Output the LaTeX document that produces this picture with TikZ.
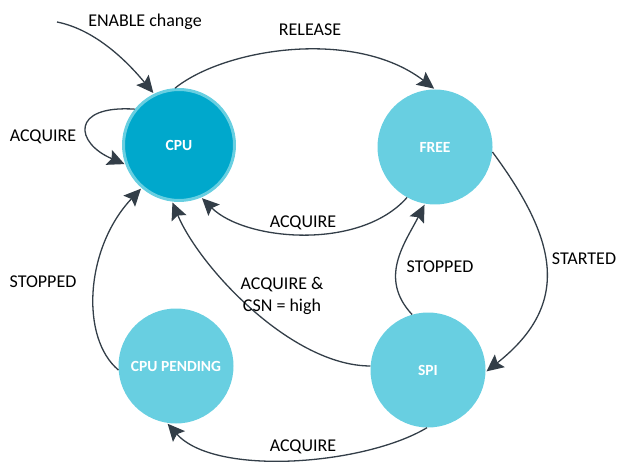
\documentclass[tikz,border=0pt]{standalone}
\usepackage{fontspec}
\setmainfont{Carlito}
\usetikzlibrary{arrows.meta}
\definecolor{lightst}{HTML}{68CFE1}
\definecolor{darkst}{HTML}{00A8CC}
\definecolor{edgec}{HTML}{333E48}
\tikzset{
  state/.style={circle, fill=lightst, minimum size=115pt, inner sep=0pt,
    font=\fontsize{15.5}{18}\selectfont\bfseries, text=white},
  activestate/.style={state, fill=darkst, draw=lightst, line width=3pt, minimum size=111pt},
  trans/.style={draw=edgec, line width=1.3pt, shorten >=1pt,
    -{Stealth[length=17pt,width=16pt,inset=3pt]}},
  lbl/.style={font=\fontsize{18}{22}\selectfont, text=black, inner sep=0pt, align=center}
}
\begin{document}
\begin{tikzpicture}[x=1pt,y=1pt]
\useasboundingbox (0,0) rectangle (617,463);
\node[activestate] (cpu) at (179,318) {CPU};
\node[state] (free) at (435,316) {FREE};
\node[state] (cpup) at (176,97) {CPU PENDING};
\node[state] (spi) at (428,93) {SPI};
\coordinate (ent) at (57,441);
% enable change
\draw[trans] (ent) .. controls +(40,-8) and +(-25,30) .. (cpu.116);
% release
\draw[trans] (cpu.94) .. controls (225,415) and (355,435) .. (free.90);
% self loop
\draw[trans] (cpu.141) .. controls (70,358) and (75,320) .. (cpu.200);
% free -> cpu acquire
\draw[trans] (free.241.6) .. controls (360,212) and (245,222) .. (cpu.293.5);
% started
\draw[trans] (free.-5) .. controls (556,225) and (573,160) .. (spi.-2);
% stopped spi -> free
\draw[trans] (spi.106) .. controls (378,185) and (405,220) .. (free.260);
% spi -> cpu
\draw[trans] (spi.176) .. controls (292,97) and (200,195) .. (cpu.263);
% cpu pending -> cpu
\draw[trans] (cpup.184) .. controls (80,125) and (85,215) .. (cpu.229);
% spi -> cpu pending
\draw[trans] (spi.269) .. controls (365,-2) and (215,-14) .. (cpup.261);
% labels
\node[lbl] (l1) at (145,441) {ENABLE change};
\node[lbl] (l2) at (310,433) {RELEASE};
\node[lbl] (l3) at (43,326) {ACQUIRE};
\node[lbl] (l4) at (43,181) {STOPPED};
\node[lbl] (l5) at (303,240) {ACQUIRE};
\node[lbl] (l6) at (440,196) {STOPPED};
\node[lbl] (l7) at (584,204) {STARTED};
\node[lbl] (l8) at (282,167) {ACQUIRE \&\\CSN = high};
\node[lbl] (l9) at (303,16) {ACQUIRE};
\end{tikzpicture}
\end{document}
